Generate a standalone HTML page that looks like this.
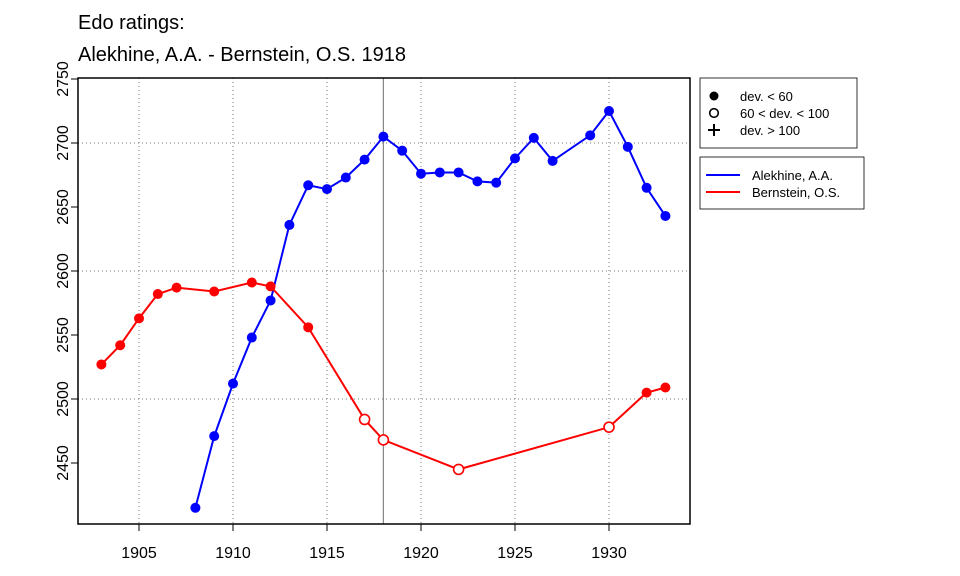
<!DOCTYPE html>
<html><head><meta charset="utf-8"><style>
body{margin:0;background:#fff}
svg{display:block;font-family:"Liberation Sans",Arial,sans-serif}
</style></head><body>
<svg id="chart" width="960" height="576">
<text x="78" y="29" font-size="20">Edo ratings:</text>
<text x="78" y="61" font-size="20">Alekhine, A.A. - Bernstein, O.S. 1918</text>
<g id="grid"></g>
<g id="axes"></g>
<g id="series"></g>
<rect x="78" y="78" width="612" height="446" fill="none" stroke="#000" stroke-width="1.5"/>
<g>
<rect x="700" y="78" width="157" height="70" fill="#fff" stroke="#000" stroke-width="0.8"/>
<circle cx="714" cy="96" r="4.5" fill="#000"/>
<text x="740" y="101" font-size="13">dev. &lt; 60</text>
<circle cx="714" cy="113" r="4.3" fill="none" stroke="#000" stroke-width="1.6"/>
<text x="740" y="118" font-size="13">60 &lt; dev. &lt; 100</text>
<path d="M708 130h12M714 124v12" stroke="#000" stroke-width="2"/>
<text x="740" y="135" font-size="13">dev. &gt; 100</text>
</g>
<g>
<rect x="700" y="157" width="164" height="52" fill="#fff" stroke="#000" stroke-width="0.8"/>
<line x1="706" y1="175" x2="740" y2="175" stroke="#0000ff" stroke-width="2"/>
<text x="752" y="180" font-size="13">Alekhine, A.A.</text>
<line x1="706" y1="192" x2="740" y2="192" stroke="#ff0000" stroke-width="2"/>
<text x="752" y="197" font-size="13">Bernstein, O.S.</text>
</g>
</svg>
<script>
const xTicks=[1905,1910,1915,1920,1925,1930];
const yTicks=[2450,2500,2550,2600,2650,2700,2750];
const yGrid=[2500,2600,2700];
const eventYear=1918;
const alekhineYears=[1908,1909,1910,1911,1912,1913,1914,1915,1916,1917,1918,1919,1920,1921,1922,1923,1924,1925,1926,1927,1929,1930,1931,1932,1933];
const alekhineRatings=[2415,2471,2512,2548,2577,2636,2667,2664,2673,2687,2705,2694,2676,2677,2677,2670,2669,2688,2704,2686,2706,2725,2697,2665,2643];
const alekhineOpen=[0,0,0,0,0,0,0,0,0,0,0,0,0,0,0,0,0,0,0,0,0,0,0,0,0];
const bernsteinYears=[1903,1904,1905,1906,1907,1909,1911,1912,1914,1917,1918,1922,1930,1932,1933];
const bernsteinRatings=[2527,2542,2563,2582,2587,2584,2591,2588,2556,2484,2468,2445,2478,2505,2509];
const bernsteinOpen=[0,0,0,0,0,0,0,0,0,1,1,1,1,0,0];
const NS="http://www.w3.org/2000/svg";
const X=v=>139+(v-1905)*18.8;
const Y=v=>271-(v-2600)*1.28;
function mk(p,t,a){const e=document.createElementNS(NS,t);for(const k in a)e.setAttribute(k,a[k]);p.appendChild(e);return e;}
const grid=document.getElementById('grid'),axes=document.getElementById('axes'),series=document.getElementById('series');
xTicks.forEach(t=>{const l=mk(grid,'line',{x1:X(t),x2:X(t),y1:78,y2:524,stroke:'#777','stroke-dasharray':'1 3'});

const tk=mk(axes,'line',{x1:X(t),x2:X(t),y1:524,y2:531,stroke:'#000'});

const tx=mk(axes,'text',{x:X(t),y:558,'font-size':16,'text-anchor':'middle'});tx.textContent=t;
});
yGrid.forEach(t=>{const l=mk(grid,'line',{x1:78,x2:690,y1:Y(t),y2:Y(t),stroke:'#777','stroke-dasharray':'1 3'});
});
yTicks.forEach(t=>{const tk=mk(axes,'line',{x1:71,x2:78,y1:Y(t),y2:Y(t),stroke:'#000'});

const tx=mk(axes,'text',{x:0,y:0,'font-size':16,'text-anchor':'middle',transform:`translate(68,${Y(t)}) rotate(-90)`});tx.textContent=t;
});
const ev=mk(grid,'line',{x1:X(eventYear),x2:X(eventYear),y1:78,y2:524,stroke:'#888','stroke-width':1.2});

function draw(years,vals,open,col,name){
const pl=mk(series,'polyline',{points:years.map((y,i)=>X(y)+','+Y(vals[i])).join(' '),fill:'none',stroke:col,'stroke-width':2});

years.forEach((y,i)=>{const c=mk(series,'circle',open[i]?{cx:X(y),cy:Y(vals[i]),r:5,fill:'#fff',stroke:col,'stroke-width':1.6}:{cx:X(y),cy:Y(vals[i]),r:5,fill:col});
});}
draw(alekhineYears,alekhineRatings,alekhineOpen,'#0000ff','alekhine');
draw(bernsteinYears,bernsteinRatings,bernsteinOpen,'#ff0000','bernstein');
</script>
</body></html>
